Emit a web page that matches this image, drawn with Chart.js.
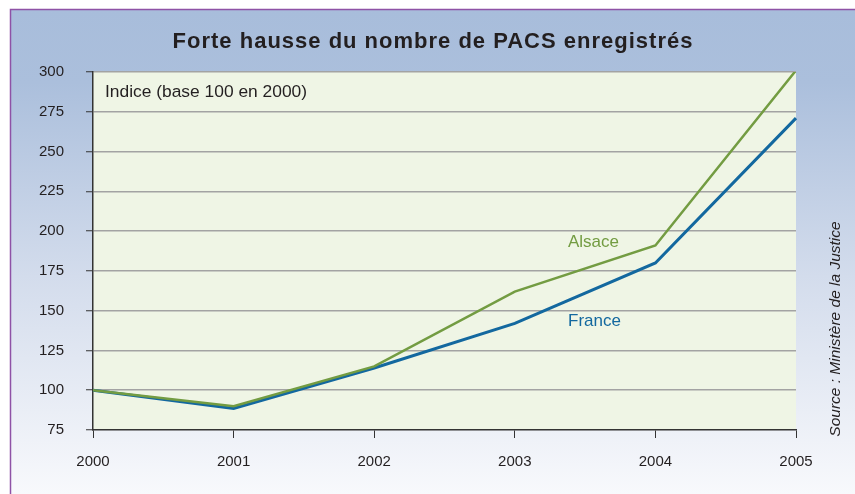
<!DOCTYPE html>
<html>
<head>
<meta charset="utf-8">
<script src="https://cdn.jsdelivr.net/npm/chart.js@4.4.1/dist/chart.umd.min.js"></script>
<style>
html,body{margin:0;padding:0;background:#fff;}
#wrap{width:855px;height:494px;position:relative;}
</style>
</head>
<body>
<div id="wrap"><canvas id="c" width="855" height="494"></canvas></div>
<script>
const years = ['2000','2001','2002','2003','2004','2005'];
const alsace = [100, 90, 115, 162, 191, 301];
const france = [100, 88.5, 114, 142, 180, 271];
const yTicks = [75, 100, 125, 150, 175, 200, 225, 250, 275, 300];

const FONT = '"Liberation Sans", Arial, Helvetica, sans-serif';
const GREEN = '#739c42';
const BLUE = '#13689f';

const decor = {
  id: 'decor',
  beforeDraw(chart) {
    const ctx = chart.ctx;
    const W = chart.width, H = chart.height;
    ctx.save();
    ctx.fillStyle = '#ffffff';
    ctx.fillRect(0, 0, W, H);
    const g = ctx.createLinearGradient(0, 10, 0, H);
    g.addColorStop(0, '#a8bddb');
    g.addColorStop(0.15, '#abbfdc');
    g.addColorStop(0.55, '#d3dcec');
    g.addColorStop(1, '#f8f9fc');
    ctx.fillStyle = g;
    ctx.fillRect(10, 9, W - 10, H - 9);
    ctx.strokeStyle = '#8e52a6';
    ctx.lineWidth = 1.5;
    ctx.beginPath();
    ctx.moveTo(10.5, H);
    ctx.lineTo(10.5, 9.5);
    ctx.lineTo(W, 9.5);
    ctx.stroke();
    const a = chart.chartArea;
    ctx.fillStyle = '#eff5e5';
    ctx.fillRect(a.left, a.top, a.right - a.left, a.bottom - a.top);
    ctx.restore();
  },
  afterDraw(chart) {
    const ctx = chart.ctx;
    ctx.save();
    ctx.fillStyle = '#231f20';
    ctx.textBaseline = 'middle';
    ctx.textAlign = 'center';
    ctx.font = 'bold 22px ' + FONT;
    ctx.letterSpacing = '1px';
    ctx.fillText('Forte hausse du nombre de PACS enregistrés', 433, 42);
    ctx.letterSpacing = '0px';
    ctx.textAlign = 'left';
    ctx.font = '17.4px ' + FONT;
    ctx.fillText('Indice (base 100 en 2000)', 105, 92);
    ctx.font = '17px ' + FONT;
    ctx.fillStyle = GREEN;
    ctx.fillText('Alsace', 568, 242);
    ctx.fillStyle = BLUE;
    ctx.fillText('France', 568, 321);
    ctx.fillStyle = '#231f20';
    ctx.translate(836, 329);
    ctx.rotate(-Math.PI / 2);
    ctx.textAlign = 'center';
    ctx.font = 'italic 15.5px ' + FONT;
    ctx.fillText('Source : Ministère de la Justice', 0, 0);
    ctx.restore();
  }
};

new Chart(document.getElementById('c'), {
  type: 'line',
  data: {
    labels: years,
    datasets: [
      { label: 'Alsace', data: alsace, borderColor: GREEN, borderWidth: 2.5, pointRadius: 0, tension: 0 },
      { label: 'France', data: france, borderColor: BLUE, borderWidth: 3, pointRadius: 0, tension: 0 }
    ]
  },
  options: {
    responsive: false,
    animation: false,
    layout: { padding: { top: 72, right: 59, left: 0, bottom: 0 } },
    plugins: { legend: { display: false }, title: { display: false }, tooltip: { enabled: false } },
    scales: {
      x: {
        type: 'category',
        offset: false,
        afterFit(s) { s.height = 64; },
        grid: { drawOnChartArea: false, drawTicks: true, tickLength: 8, tickColor: '#333', tickWidth: 1 },
        border: { color: '#333', width: 1.5 },
        ticks: { color: '#231f20', font: { family: FONT, size: 15 }, padding: 15, maxRotation: 0 }
      },
      y: {
        min: 75, max: 300,
        afterFit(s) { s.width = 93; },
        afterBuildTicks(s) { s.ticks = yTicks.map(v => ({ value: v })); },
        grid: {
          color: (c) => c.tick && c.tick.value === 75 ? 'rgba(0,0,0,0)' : '#a3a3a3',
          lineWidth: 1.5, drawTicks: true, tickLength: 7, tickColor: '#333', tickWidth: 1
        },
        border: { color: '#333', width: 1.5 },
        ticks: { color: '#231f20', font: { family: FONT, size: 15 }, padding: 22 }
      }
    }
  },
  plugins: [decor]
});
</script>
</body>
</html>
